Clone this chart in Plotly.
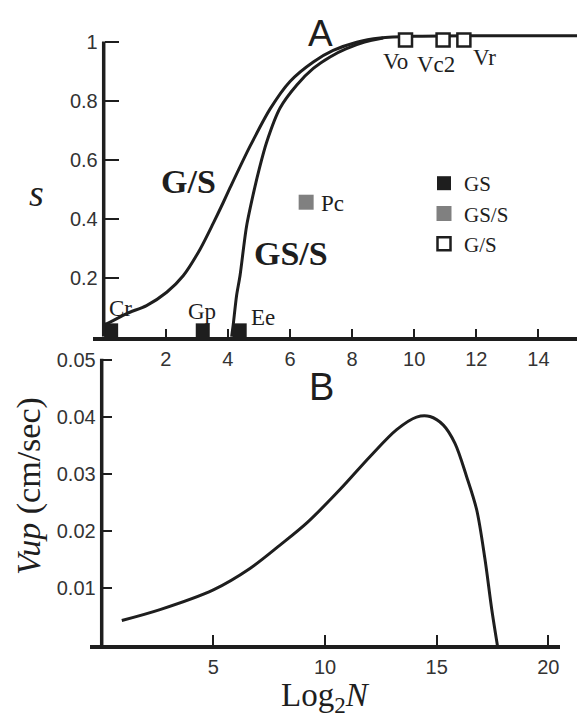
import plotly.graph_objects as go

# ---------------- data ----------------
# Panel A: curves s vs log2 N
gs_curve_x = [0, 0.1, 0.74, 1.38, 2.03, 2.56, 3.1, 3.53, 3.85, 4.07, 4.71, 5.36, 6.0, 6.75, 7.39, 8.15, 8.9, 10.0, 12.0, 15.3]
gs_curve_y = [0.043, 0.045, 0.079, 0.106, 0.151, 0.207, 0.296, 0.385, 0.455, 0.505, 0.645, 0.772, 0.865, 0.931, 0.970, 0.998, 1.012, 1.018, 1.02, 1.02]

gss_curve_x = [4.12, 4.17, 4.28, 4.39, 4.6, 4.87, 5.0, 5.25, 5.68, 6.22, 6.75, 7.29, 7.8, 8.4, 9.0]
gss_curve_y = [0.0, 0.04, 0.14, 0.207, 0.374, 0.508, 0.565, 0.66, 0.775, 0.853, 0.909, 0.948, 0.975, 0.998, 1.012]

# species points
gs_names = ["Cr", "Gp", "Ee"]
gs_x = [0.24, 3.19, 4.38]
gs_y = [0.022, 0.022, 0.022]

gss_names = ["Pc"]
gss_x = [6.52]
gss_y = [0.456]

g_names = ["Vo", "Vc2", "Vr"]
g_x = [9.72, 10.93, 11.6]
g_y = [1.005, 1.005, 1.005]

# Panel B: Vup vs log2 N
vup_x = [0.9, 2.61, 5.0, 6.64, 8.0, 9.2, 10.67, 12.02, 13.21, 14.1, 14.7, 15.3, 15.82, 16.34, 16.79, 17.16, 17.46, 17.72]
vup_y = [0.00433, 0.00624, 0.0097, 0.01345, 0.0176, 0.0215, 0.0273, 0.0331, 0.0378, 0.0400, 0.0401, 0.0386, 0.0354, 0.0296, 0.0238, 0.0152, 0.0065, 0.0]

a_xticks = [2, 4, 6, 8, 10, 12, 14]
a_yticks = [0.2, 0.4, 0.6, 0.8, 1]
a_yticklabels = ["0.2", "0.4", "0.6", "0.8", "1"]
b_xticks = [5, 10, 15, 20]
b_yticks = [0.01, 0.02, 0.03, 0.04, 0.05]
b_yticklabels = ["0.01", "0.02", "0.03", "0.04", "0.05"]

# ---------------- styles ----------------
W, H = 577, 719
INK = "#1e1e1e"
TICKC = "#333333"
SERIF = "Liberation Serif, Times New Roman, serif"
SANS = "Liberation Sans, Arial, sans-serif"

# label offsets (pixels) relative to each point
label_shift = {
    "Cr": (9, 22), "Gp": (-1, 19), "Ee": (23, 13),
    "Pc": (26, -1),
    "Vo": (-10, -21), "Vc2": (-7, -24), "Vr": (21, -17),
}

fig = go.Figure()

fig.add_trace(go.Scatter(x=gs_curve_x, y=gs_curve_y, mode="lines", xaxis="x", yaxis="y",
                         line=dict(color=INK, width=3, shape="spline", smoothing=0.8),
                         showlegend=False, hoverinfo="skip"))
fig.add_trace(go.Scatter(x=gss_curve_x, y=gss_curve_y, mode="lines", xaxis="x", yaxis="y",
                         line=dict(color=INK, width=3, shape="spline", smoothing=0.8),
                         showlegend=False, hoverinfo="skip"))

fig.add_trace(go.Scatter(x=gs_x, y=gs_y, mode="markers", name="GS", xaxis="x", yaxis="y",
                         marker=dict(symbol="square", size=14, color=INK, line=dict(width=0)),
                         cliponaxis=False))
fig.add_trace(go.Scatter(x=gss_x, y=gss_y, mode="markers", name="GS/S", xaxis="x", yaxis="y",
                         marker=dict(symbol="square", size=15, color="#808080", line=dict(width=0)),
                         cliponaxis=False))
fig.add_trace(go.Scatter(x=g_x, y=g_y, mode="markers", name="G/S", xaxis="x", yaxis="y",
                         marker=dict(symbol="square", size=13, color="white", line=dict(color=INK, width=2.5)),
                         cliponaxis=False))

fig.add_trace(go.Scatter(x=vup_x, y=vup_y, mode="lines", xaxis="x2", yaxis="y2",
                         line=dict(color=INK, width=3, shape="spline", smoothing=0.9),
                         showlegend=False, hoverinfo="skip"))

# ---------------- axes geometry ----------------
ax_l, ax_r = 93, 577
a_x0px, a_xs = 103.7, 31.05
a_top, a_bot = 20, 332
a_ys = 299.0
bx_l, bx_r = 90, 560
b_x0px, b_xs = 101.7, 22.33
b_top, b_bot = 354, 644.3
b_ys = 5775.0

axis_common = dict(showgrid=False, zeroline=False, ticks="inside", tickcolor=INK,
                   tickfont=dict(family=SANS, size=20, color=TICKC))

fig.update_layout(
    width=W, height=H, margin=dict(l=0, r=0, t=0, b=0),
    paper_bgcolor="white", plot_bgcolor="white",
    xaxis=dict(domain=[ax_l / W, ax_r / W],
               range=[(ax_l - a_x0px) / a_xs, (ax_r - a_x0px) / a_xs],
               tickvals=a_xticks, ticklen=8, tickwidth=2,
               showline=True, linecolor=INK, linewidth=3.5, anchor="y",
               ticklabelstandoff=1, **axis_common),
    yaxis=dict(domain=[1 - a_bot / H, 1 - a_top / H],
               range=[0, (a_bot - a_top) / a_ys],
               tickvals=a_yticks, ticktext=a_yticklabels, ticklen=14, tickwidth=2,
               showline=False, anchor="free", position=a_x0px / W,
               ticklabelstandoff=6, **axis_common),
    xaxis2=dict(domain=[bx_l / W, bx_r / W],
                range=[(bx_l - b_x0px) / b_xs, (bx_r - b_x0px) / b_xs],
                tickvals=b_xticks, ticklen=10, tickwidth=2,
                showline=True, linecolor=INK, linewidth=3.5, anchor="y2",
                ticklabelstandoff=1, **axis_common),
    yaxis2=dict(domain=[1 - b_bot / H, 1 - b_top / H],
                range=[0, (b_bot - b_top) / b_ys],
                tickvals=b_yticks, ticktext=b_yticklabels, ticklen=9, tickwidth=2,
                showline=False, anchor="free", position=b_x0px / W,
                ticklabelstandoff=6, **axis_common),
    legend=dict(x=424 / W, y=1 - 156 / H, xanchor="left", yanchor="top",
                font=dict(family=SERIF, size=21, color=INK),
                bgcolor="rgba(0,0,0,0)", tracegroupgap=0, itemsizing="trace"),
)

# y-axis lines (stop at the top tick)
fig.add_shape(type="line", xref="x", yref="y", x0=0, x1=0, y0=0, y1=1,
              line=dict(color=INK, width=3.5))
fig.add_shape(type="line", xref="x2", yref="y2", x0=0, x1=0, y0=0, y1=(b_bot - b_top) / b_ys,
              line=dict(color=INK, width=3.5))

# point labels
for names, xs, ys in [(gs_names, gs_x, gs_y), (gss_names, gss_x, gss_y), (g_names, g_x, g_y)]:
    for n, xv, yv in zip(names, xs, ys):
        dx, dy = label_shift[n]
        fig.add_annotation(x=xv, y=yv, xref="x", yref="y", text=n, showarrow=False,
                           xshift=dx, yshift=dy, xanchor="center", yanchor="middle",
                           font=dict(family=SERIF, size=23, color=INK))

def paper_ann(px, py, text, size, family, angle=0, yanchor="middle"):
    fig.add_annotation(x=px / W, y=1 - py / H, xref="paper", yref="paper", text=text,
                       showarrow=False, xanchor="center", yanchor=yanchor, textangle=angle,
                       borderpad=0, font=dict(family=family, size=size, color=INK))

paper_ann(188, 175, "<b>G/S</b>", 34, SERIF)
paper_ann(291, 248, "<b>GS/S</b>", 34, SERIF)
paper_ann(320, 25, "A", 37, SANS)
paper_ann(321, 383, "B", 38, SANS)
paper_ann(36, 186, "<i>s</i>", 38, SERIF)
paper_ann(29, 483, "<i>Vup</i> (cm/sec)", 34, SERIF, angle=-90)
paper_ann(325, 719, "Log<sub>2</sub><i>N</i>", 33, SERIF, yanchor="bottom")

fig.write_html("out.html")
